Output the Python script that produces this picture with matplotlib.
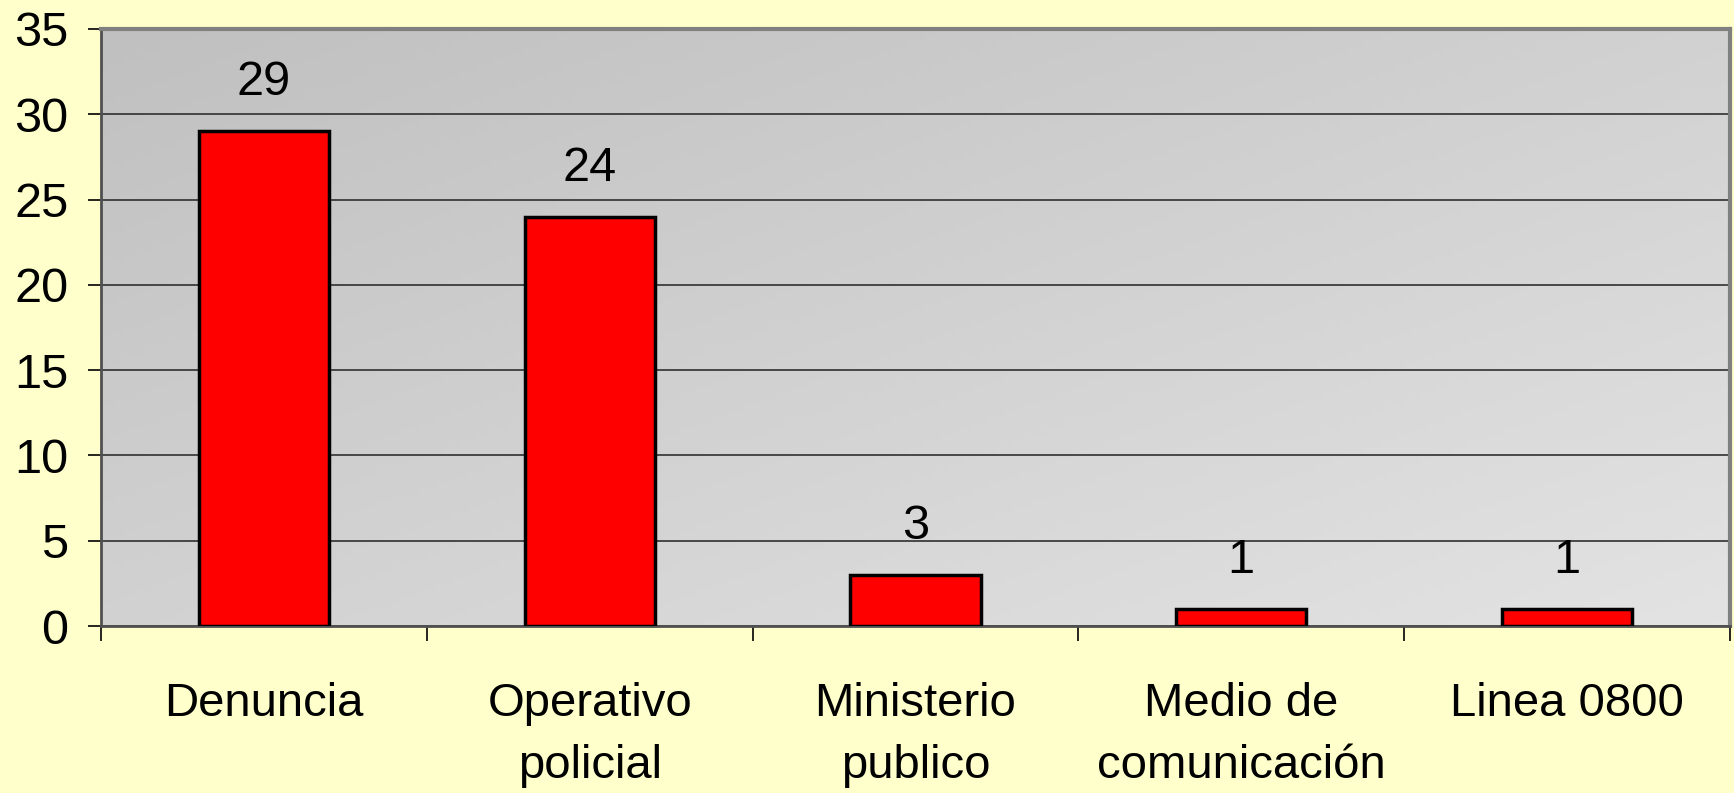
import numpy as np
import matplotlib.pyplot as plt
from matplotlib.colors import LinearSegmentedColormap

plt.rcParams['font.family'] = ['Liberation Sans', 'DejaVu Sans']

categorias = ['Denuncia', 'Operativo\npolicial', 'Ministerio\npublico',
              'Medio de\ncomunicación', 'Linea 0800']
valores = [29, 24, 3, 1, 1]
yticks = [0, 5, 10, 15, 20, 25, 30, 35]

fig = plt.figure(figsize=(17.34, 7.93), dpi=100, facecolor='#FFFFCC')
ax = fig.add_axes([101 / 1734, 1 - 626 / 793, 1629 / 1734, 597 / 793])

# fondo gris en degradado (oscuro arriba a la izquierda, claro abajo a la derecha)
gx, gy = np.meshgrid(np.linspace(0, 1, 200), np.linspace(0, 1, 100))
grad = 0.5 * gx + 0.5 * gy
gris = LinearSegmentedColormap.from_list('gris', ['#C0C0C0', '#E3E3E3'])
ax.imshow(grad, extent=[0, 1, 0, 1], transform=ax.transAxes, aspect='auto',
          cmap=gris, vmin=0, vmax=1, zorder=0, origin='upper')

x = np.arange(len(valores))
ax.bar(x, valores, width=0.4, color='#FF0000', edgecolor='black',
       linewidth=2.5, zorder=3)

for xi, v in zip(x, valores):
    ax.annotate(str(v), (xi, v), xytext=(0, 35), textcoords='offset points',
                ha='center', va='center', fontsize=35)

ax.set_xlim(-0.5, len(valores) - 0.5)
ax.set_ylim(0, 35)
ax.set_yticks(yticks)
ax.tick_params(axis='y', labelsize=35, length=9.5, width=1.2, pad=14)
ax.set_xticks(x)
ax.set_xticklabels(categorias, fontsize=34, linespacing=1.55)
ax.set_xticks(np.arange(-0.5, len(valores)), minor=True)
ax.tick_params(axis='x', which='major', length=0, pad=40)
ax.tick_params(axis='x', which='minor', length=11, width=1.2)

ax.grid(axis='y', color='#303030', linewidth=1.2, zorder=1)
ax.set_axisbelow(True)

for s in ['top', 'right']:
    ax.spines[s].set_color('#808080')
    ax.spines[s].set_linewidth(3)
for s in ['left', 'bottom']:
    ax.spines[s].set_color('#505050')
    ax.spines[s].set_linewidth(2)

fig.savefig('out.png', dpi=100, facecolor=fig.get_facecolor())
